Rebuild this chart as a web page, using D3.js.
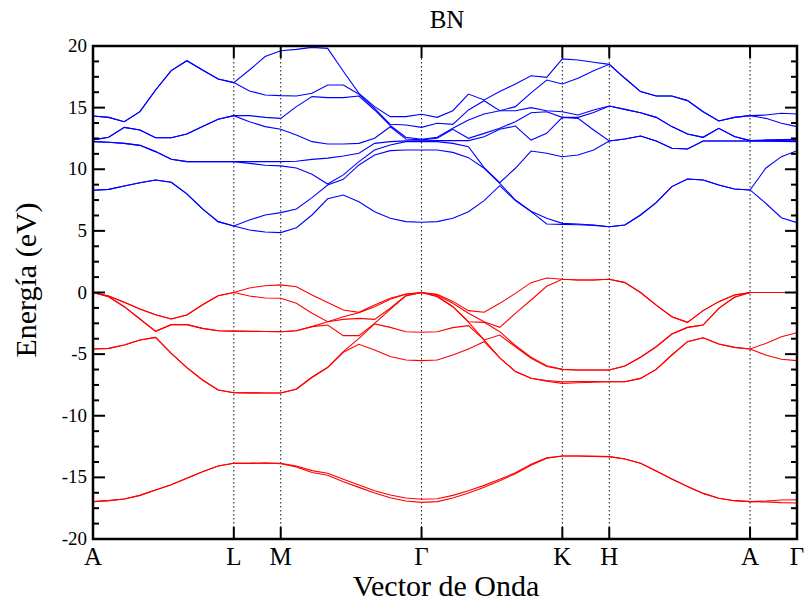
<!DOCTYPE html>
<html>
<head>
<meta charset="utf-8">
<script src="https://cdn.jsdelivr.net/npm/d3@7"></script>
<style>
  body { margin: 0; background: #fff; }
  text { font-family: "Liberation Serif", "DejaVu Serif", serif; fill: #000; }
</style>
</head>
<body>
<svg id="chart" width="806" height="603"></svg>
<script>
// k-point labels along the path (index of the sampled k-point)
var kTicks = [0, 9, 12, 21, 30, 33, 42, 45];
var kLabels = ["A", "L", "M", "Γ", "K", "H", "A", "Γ"];

// valence bands (eV), sorted by energy at each k-point
var v1 = [-16.97,-16.89,-16.75,-16.46,-16.03,-15.59,-15.08,-14.54,-14.08,-13.86,-13.86,-13.83,-13.9,-14.15,-14.6,-14.83,-15.35,-15.81,-16.27,-16.65,-16.92,-17.03,-16.97,-16.67,-16.27,-15.81,-15.27,-14.7,-14.02,-13.45,-13.27,-13.27,-13.3,-13.32,-13.51,-13.86,-14.48,-15.13,-15.75,-16.3,-16.7,-16.89,-16.97,-16.99,-17.05,-17.08];
var v2 = [-16.97,-16.89,-16.75,-16.46,-16.03,-15.59,-15.08,-14.54,-14.08,-13.86,-13.86,-13.83,-13.86,-14.08,-14.45,-14.67,-15.16,-15.62,-16.08,-16.43,-16.67,-16.78,-16.73,-16.46,-16.08,-15.65,-15.16,-14.62,-13.94,-13.42,-13.27,-13.27,-13.3,-13.32,-13.51,-13.86,-14.48,-15.13,-15.75,-16.3,-16.7,-16.89,-16.97,-16.92,-16.84,-16.81];
var v3 = [-4.58,-4.53,-4.26,-3.86,-3.64,-4.94,-6.1,-7.1,-7.91,-8.13,-8.14,-8.15,-8.15,-7.85,-6.9,-6.1,-4.85,-4.2,-4.66,-5.2,-5.48,-5.53,-5.48,-5.07,-4.58,-3.99,-5.3,-6.42,-6.96,-7.2,-7.37,-7.32,-7.28,-7.24,-7.24,-6.97,-6.24,-5.07,-3.99,-3.67,-4.18,-4.45,-4.58,-5.07,-5.42,-5.53];
var v4 = [-4.58,-4.53,-4.26,-3.86,-3.64,-4.94,-6.1,-7.1,-7.91,-8.13,-8.14,-8.15,-8.15,-7.83,-6.85,-6.07,-4.8,-3.72,-2.55,-2.83,-3.18,-3.23,-3.18,-2.85,-2.69,-3.85,-5.3,-6.42,-6.96,-7.15,-7.24,-7.22,-7.22,-7.24,-7.24,-6.97,-6.24,-5.07,-3.99,-3.67,-4.18,-4.45,-4.58,-4.13,-3.59,-3.26];
var v5 = [0,-0.34,-1.15,-2.15,-3.15,-2.61,-2.61,-2.91,-3.1,-3.13,-3.15,-3.16,-3.18,-3.1,-2.77,-2.64,-3.5,-3.5,-2.5,-1.37,-0.28,0,-0.34,-1.15,-2.4,-3.85,-3.45,-4.4,-5.34,-6.0,-6.24,-6.29,-6.29,-6.29,-5.96,-5.26,-4.4,-3.37,-2.83,-2.64,-1.29,-0.39,0,0,0,0];
var v6 = [0,-0.34,-1.15,-2.15,-3.15,-2.61,-2.61,-2.91,-3.1,-3.13,-3.15,-3.17,-3.18,-3.1,-2.77,-2.37,-2.18,-2.1,-2.18,-1.28,-0.25,0,-0.28,-1.15,-2.37,-2.42,-3.18,-4.3,-5.25,-5.95,-6.24,-6.29,-6.29,-6.29,-5.96,-5.26,-4.4,-3.37,-2.83,-2.64,-1.29,-0.39,0,0,0,0];
var v7 = [0,-0.28,-0.8,-1.34,-1.8,-2.15,-1.83,-0.99,-0.26,0,-0.28,-0.45,-0.47,-0.88,-1.69,-2.37,-1.96,-1.64,-1.15,-0.55,-0.14,0,-0.2,-0.88,-1.69,-2.37,-2.83,-1.69,-0.61,0.5,1.07,1.01,1.01,1.07,0.8,0,-1.02,-1.96,-2.42,-1.47,-0.74,-0.2,0,0,0,0];
var v8 = [0,-0.28,-0.8,-1.34,-1.8,-2.15,-1.83,-0.99,-0.26,0,0.37,0.55,0.62,0.47,-0.2,-0.82,-1.42,-1.61,-1.01,-0.47,-0.12,0,-0.15,-0.72,-1.47,-1.6,-0.88,-0.07,0.8,1.18,1.07,1.01,1.01,1.07,0.8,0,-1.02,-1.96,-2.42,-1.47,-0.74,-0.2,0,0,0,0];

// conduction bands (eV)
var c1 = [8.29,8.37,8.64,8.91,9.13,8.94,8.0,6.78,5.75,5.4,5.07,4.91,4.86,5.26,6.29,7.6,7.91,7.37,6.56,6.02,5.75,5.7,5.75,6.02,6.56,7.45,8.67,7.45,6.56,5.56,5.53,5.5,5.45,5.34,5.48,6.29,7.29,8.59,9.21,9.13,8.72,8.4,8.32,7.24,6.07,5.67];
var c2 = [8.29,8.37,8.64,8.91,9.13,8.94,8.0,6.78,5.75,5.4,5.88,6.29,6.48,6.78,7.7,8.72,9.18,10.35,11.16,11.51,11.56,11.56,11.56,11.37,10.94,10.08,8.86,7.5,6.6,6.02,5.61,5.56,5.48,5.34,5.48,6.29,7.29,8.59,9.21,9.13,8.72,8.4,8.32,10.08,11.02,11.51];
var c3 = [12.24,12.19,12.1,11.94,11.43,10.81,10.62,10.62,10.62,10.62,10.48,10.32,10.27,10.1,9.6,8.8,9.54,10.62,11.56,11.97,12.24,12.24,12.24,12.1,11.83,10.13,8.91,10.08,11.48,11.3,11.02,11.16,11.56,12.29,12.46,12.7,12.29,11.7,11.64,12.29,12.29,12.29,12.29,12.28,12.26,12.24];
var c4 = [12.24,12.19,12.1,11.94,11.43,10.81,10.62,10.62,10.62,10.62,10.62,10.62,10.62,10.65,10.8,10.9,11.08,11.3,12.1,12.24,12.3,12.3,12.32,12.32,12.32,12.64,13.24,13.51,12.37,12.92,14.21,14.13,13.19,12.29,12.46,12.7,12.29,11.7,11.64,12.29,12.29,12.29,12.29,12.3,12.3,12.3];
var c5 = [12.38,12.59,13.4,13.19,12.56,12.56,12.86,13.46,14.05,14.35,13.86,13.46,13.24,12.78,12.24,12.05,12.05,12.1,12.51,13.45,12.46,12.38,12.51,13.24,12.51,12.91,13.32,13.86,14.59,14.67,14.21,14.21,14.6,15.13,14.86,14.59,14.21,13.46,12.86,12.59,13.32,12.65,12.32,12.33,12.35,12.38];
var c6 = [12.38,12.59,13.4,13.19,12.56,12.56,12.86,13.46,14.05,14.35,14.35,14.21,14.13,15.08,15.89,15.81,15.81,15.94,14.81,13.55,12.6,12.43,12.59,13.32,13.99,14.48,14.75,14.75,15.0,14.75,14.67,14.4,14.81,15.13,14.86,14.59,14.21,13.46,12.86,12.59,13.32,12.65,12.32,12.38,12.4,12.43];
var c7 = [14.32,14.21,13.86,14.67,16.43,18.0,18.81,18.05,17.32,17.03,16.35,16.03,15.97,15.94,16.16,16.84,16.84,16.08,14.94,13.65,13.59,13.4,13.73,13.64,14.81,15.56,14.75,15.08,16.2,17.24,16.92,17.38,18.0,18.51,17.38,16.3,15.94,15.94,15.57,14.67,13.92,14.21,14.35,14.13,13.73,13.46];
var c8 = [14.32,14.21,13.86,14.67,16.43,18.0,18.81,18.05,17.32,17.03,18.05,19.14,19.62,19.73,19.89,19.81,17.95,16.16,15.08,14.27,14.27,14.46,14.21,14.75,16.1,15.62,16.3,16.92,17.59,17.46,18.95,18.87,18.68,18.51,17.38,16.3,15.94,15.94,15.57,14.67,13.92,14.21,14.35,14.4,14.54,14.48];

var valence = [v1, v2, v3, v4, v5, v6, v7, v8];
var conduction = [c1, c2, c3, c4, c5, c6, c7, c8];

var plotL = 93, plotR = 797, plotT = 46, plotB = 539;

var svg = d3.select("#chart");

var x = d3.scaleLinear().domain([0, 45]).range([plotL, plotR]);
var y = d3.scaleLinear().domain([-20, 20]).range([plotB, plotT]);

svg.append("clipPath").attr("id", "plotclip")
  .append("rect")
  .attr("x", plotL).attr("y", plotT)
  .attr("width", plotR - plotL).attr("height", plotB - plotT);

// dotted lines at interior high-symmetry points
svg.append("g")
  .selectAll("line")
  .data(kTicks.slice(1, -1))
  .enter().append("line")
  .attr("x1", d => x(d)).attr("x2", d => x(d))
  .attr("y1", plotT).attr("y2", plotB)
  .attr("stroke", "#111")
  .attr("stroke-width", 1)
  .attr("stroke-dasharray", "1.5,2.5");

var line = d3.line()
  .x((d, i) => x(i))
  .y(d => y(d));

var bands = svg.append("g").attr("clip-path", "url(#plotclip)");

bands.selectAll(".val")
  .data(valence)
  .enter().append("path")
  .attr("class", "val")
  .attr("d", line)
  .attr("fill", "none")
  .attr("stroke", "#ff0000")
  .attr("stroke-width", 1.1);

bands.selectAll(".cond")
  .data(conduction)
  .enter().append("path")
  .attr("class", "cond")
  .attr("d", line)
  .attr("fill", "none")
  .attr("stroke", "#0000ff")
  .attr("stroke-width", 1.1);

// energy ticks, inward on both sides
var yTicks = d3.range(-20, 20.01, 1.25);
var ticks = svg.append("g").attr("stroke", "#000").attr("stroke-width", 2);
yTicks.forEach(function (v) {
  var len = (v % 5 === 0) ? 12 : 6;
  ticks.append("line").attr("x1", plotL).attr("x2", plotL + len)
    .attr("y1", y(v)).attr("y2", y(v));
  ticks.append("line").attr("x1", plotR).attr("x2", plotR - len)
    .attr("y1", y(v)).attr("y2", y(v));
});
kTicks.forEach(function (k) {
  ticks.append("line").attr("x1", x(k)).attr("x2", x(k))
    .attr("y1", plotB).attr("y2", plotB - 12);
  ticks.append("line").attr("x1", x(k)).attr("x2", x(k))
    .attr("y1", plotT).attr("y2", plotT + 12);
});

// frame
svg.append("rect")
  .attr("x", plotL).attr("y", plotT)
  .attr("width", plotR - plotL).attr("height", plotB - plotT)
  .attr("fill", "none")
  .attr("stroke", "#000")
  .attr("stroke-width", 2.5);

// energy labels
svg.append("g")
  .selectAll("text")
  .data(d3.range(-20, 21, 5))
  .enter().append("text")
  .attr("x", plotL - 6)
  .attr("y", d => y(d) + 6)
  .attr("text-anchor", "end")
  .attr("font-size", 19)
  .text(d => d);

// k-point labels
svg.append("g")
  .selectAll("text")
  .data(kTicks)
  .enter().append("text")
  .attr("x", d => x(d))
  .attr("y", 565)
  .attr("text-anchor", "middle")
  .attr("font-size", 25)
  .text((d, i) => kLabels[i]);

svg.append("text")
  .attr("x", 446).attr("y", 596)
  .attr("text-anchor", "middle")
  .attr("font-size", 30)
  .text("Vector de Onda");

svg.append("text")
  .attr("transform", "translate(36,280) rotate(-90)")
  .attr("text-anchor", "middle")
  .attr("font-size", 30)
  .text("Energía (eV)");

svg.append("text")
  .attr("x", 447).attr("y", 28)
  .attr("text-anchor", "middle")
  .attr("font-size", 25)
  .text("BN");
</script>
</body>
</html>
